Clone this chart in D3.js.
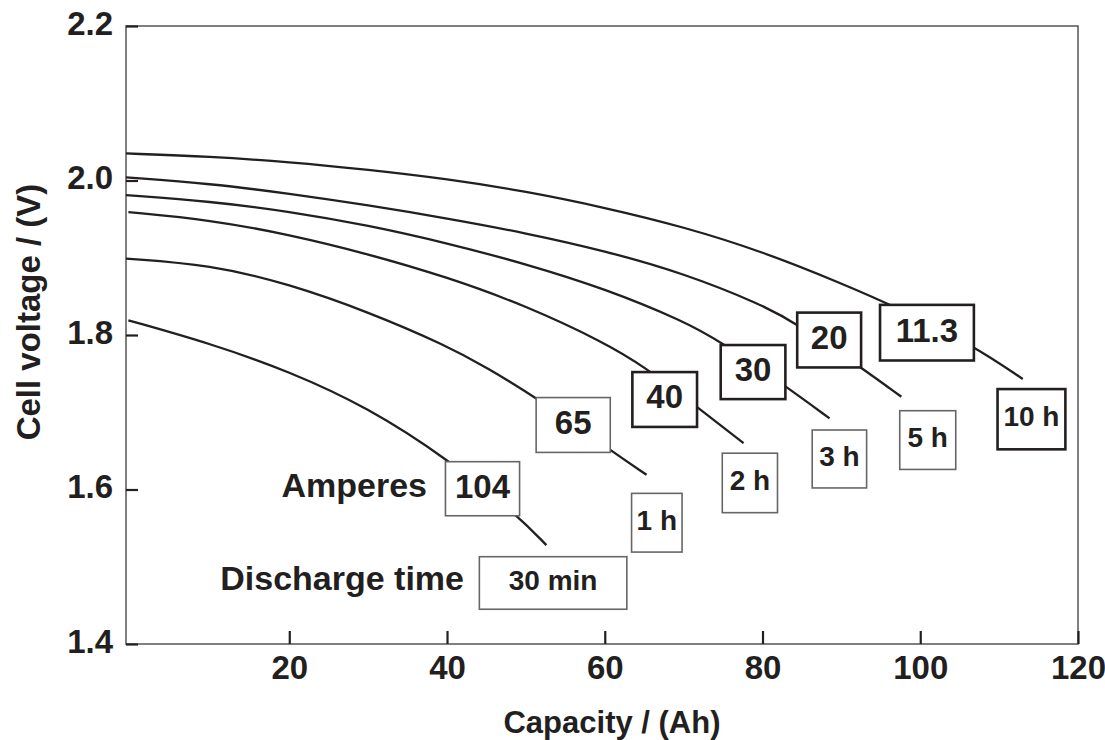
<!DOCTYPE html>
<html>
<head>
<meta charset="utf-8">
<script src="https://cdn.jsdelivr.net/npm/d3@7"></script>
<style>
  body { margin: 0; background: #fff; }
  text { font-family: "Liberation Sans", Arial, sans-serif; font-weight: bold; fill: #231f20; }
</style>
</head>
<body>
<div class="canvas"></div>
<script>
// ---- data: [capacity Ah, cell voltage V] ----
const currents = ['11.3', '20', '30', '40', '65', '104'];
const dischargeTimes = ['10 h', '5 h', '3 h', '2 h', '1 h', '30 min'];

const curve11_3A = [[-0.7, 2.035], [10, 2.031], [20, 2.024], [30, 2.014], [40, 2.002], [50, 1.986], [60, 1.965],
    [70, 1.940], [80, 1.908], [90, 1.867], [97.4, 1.834], [106.8, 1.786], [113.0, 1.743]];
const curve20A = [[-0.7, 2.004], [10, 1.996], [20, 1.983], [30, 1.968], [40, 1.951], [50, 1.932], [60, 1.909],
    [70, 1.880], [80, 1.839], [84.3, 1.815], [92.5, 1.758], [97.6, 1.720]];
const curve30A = [[-0.7, 1.981], [10, 1.973], [20, 1.960], [30, 1.942], [40, 1.919], [50, 1.892], [60, 1.860],
    [70, 1.818], [74.6, 1.792], [82.9, 1.734], [88.5, 1.692]];
const curve40A = [[-0.4, 1.959], [10, 1.949], [20, 1.930], [30, 1.905], [40, 1.875], [50, 1.838], [60, 1.790],
    [64.9, 1.760], [71.7, 1.707], [77.6, 1.660]];
const curve65A = [[-0.7, 1.899], [10, 1.891], [20, 1.866], [30, 1.830], [40, 1.786], [45, 1.758], [51.2, 1.720],
    [60.7, 1.651], [65.3, 1.619]];
const curve104A = [[-0.4, 1.819], [10, 1.789], [20, 1.753], [30, 1.706], [40, 1.640], [48.9, 1.567], [52.6, 1.528]];

const curves = [curve11_3A, curve20A, curve30A, curve40A, curve65A, curve104A];

const xTicks = [20, 40, 60, 80, 100, 120];
const yTicks = [1.4, 1.6, 1.8, 2.0, 2.2];

// ---- layout of the label boxes (in axis units) ----
const ampBoxes = [
    { x0: 94.9, x1: 106.8, y0: 1.839, y1: 1.767, heavy: true },
    { x0: 84.4, x1: 92.5, y0: 1.829, y1: 1.758, heavy: true },
    { x0: 74.7, x1: 82.9, y0: 1.787, y1: 1.717, heavy: true },
    { x0: 63.5, x1: 71.7, y0: 1.752, y1: 1.681, heavy: true },
    { x0: 51.3, x1: 60.7, y0: 1.719, y1: 1.648, heavy: false },
    { x0: 39.8, x1: 49.2, y0: 1.636, y1: 1.566, heavy: false }
];
const timeBoxes = [
    { x0: 109.8, x1: 118.4, y0: 1.730, y1: 1.652, heavy: true },
    { x0: 97.4, x1: 104.5, y0: 1.702, y1: 1.626, heavy: false },
    { x0: 86.3, x1: 93.2, y0: 1.677, y1: 1.602, heavy: false },
    { x0: 74.9, x1: 81.9, y0: 1.647, y1: 1.570, heavy: false },
    { x0: 63.4, x1: 69.8, y0: 1.595, y1: 1.519, heavy: false },
    { x0: 44.1, x1: 62.8, y0: 1.513, y1: 1.445, heavy: false }
];

//=============== set up ===============//
const width = 1105;
const height = 740;
const margin = { top: 26, right: 27, bottom: 96, left: 126 };
const graphWidth = width - margin.left - margin.right;
const graphHeight = height - margin.top - margin.bottom;

const svg = d3.select('.canvas')
    .append('svg')
    .attr('width', width)
    .attr('height', height);

const graph = svg.append('g')
    .attr('transform', `translate(${margin.left},${margin.top})`);

const x = d3.scaleLinear()
    .domain([-0.7, 120])
    .range([0, graphWidth]);

const y = d3.scaleLinear()
    .domain([1.4, 2.2])
    .range([graphHeight, 0]);

// frame
graph.append('rect')
    .attr('width', graphWidth)
    .attr('height', graphHeight)
    .attr('fill', 'none')
    .attr('stroke', '#555')
    .attr('stroke-width', 1.5);

const xAxis = d3.axisBottom(x)
    .tickValues(xTicks)
    .tickSize(-13)
    .tickPadding(12)
    .tickFormat(d3.format('d'));

const yAxis = d3.axisLeft(y)
    .tickValues(yTicks)
    .tickSize(-12)
    .tickPadding(13)
    .tickFormat(d3.format('.1f'));

const xAxisGroup = graph.append('g')
    .attr('transform', `translate(0,${graphHeight})`)
    .call(xAxis);
const yAxisGroup = graph.append('g').call(yAxis);

[xAxisGroup, yAxisGroup].forEach(g => {
    g.select('.domain').remove();
    g.selectAll('line').attr('stroke', '#231f20').attr('stroke-width', 2.2);
    g.selectAll('text')
        .attr('font-size', 33)
        .attr('font-family', '"Liberation Sans", Arial, sans-serif')
        .attr('font-weight', 'bold')
        .attr('fill', '#231f20');
});
yAxisGroup.selectAll('text').attr('dy', '0.25em');

// axis titles
svg.append('text')
    .attr('x', 612)
    .attr('y', 733)
    .attr('text-anchor', 'middle')
    .attr('font-size', 31)
    .text('Capacity / (Ah)');

svg.append('text')
    .attr('transform', 'translate(40,312) rotate(-90)')
    .attr('text-anchor', 'middle')
    .attr('font-size', 33)
    .text('Cell voltage / (V)');

//=============== curves ===============//
const line = d3.line()
    .x(d => x(d[0]))
    .y(d => y(d[1]))
    .curve(d3.curveBasis);

graph.selectAll('path.curve')
    .data(curves)
    .enter()
    .append('path')
    .attr('class', 'curve')
    .attr('d', line)
    .attr('fill', 'none')
    .attr('stroke', '#231f20')
    .attr('stroke-width', 2.3);

//=============== label boxes ===============//
const drawBoxes = (boxes, labels, fontSize) => {
    const g = graph.selectAll(null)
        .data(boxes)
        .enter()
        .append('g');

    g.append('rect')
        .attr('x', d => x(d.x0))
        .attr('y', d => y(d.y0))
        .attr('width', d => x(d.x1) - x(d.x0))
        .attr('height', d => y(d.y1) - y(d.y0))
        .attr('fill', '#fff')
        .attr('stroke', d => d.heavy ? '#231f20' : '#666')
        .attr('stroke-width', d => d.heavy ? 2.6 : 1.6);

    g.append('text')
        .attr('x', d => (x(d.x0) + x(d.x1)) / 2)
        .attr('y', d => (y(d.y0) + y(d.y1)) / 2 + fontSize * 0.36 - 3)
        .attr('text-anchor', 'middle')
        .attr('font-size', fontSize)
        .text((d, i) => labels[i]);
};

drawBoxes(ampBoxes, currents, 33);
drawBoxes(timeBoxes, dischargeTimes, 28);

svg.append('text')
    .attr('x', 427)
    .attr('y', 497)
    .attr('text-anchor', 'end')
    .attr('font-size', 34)
    .text('Amperes');

svg.append('text')
    .attr('x', 464)
    .attr('y', 590)
    .attr('text-anchor', 'end')
    .attr('font-size', 34)
    .text('Discharge time');
</script>
</body>
</html>
